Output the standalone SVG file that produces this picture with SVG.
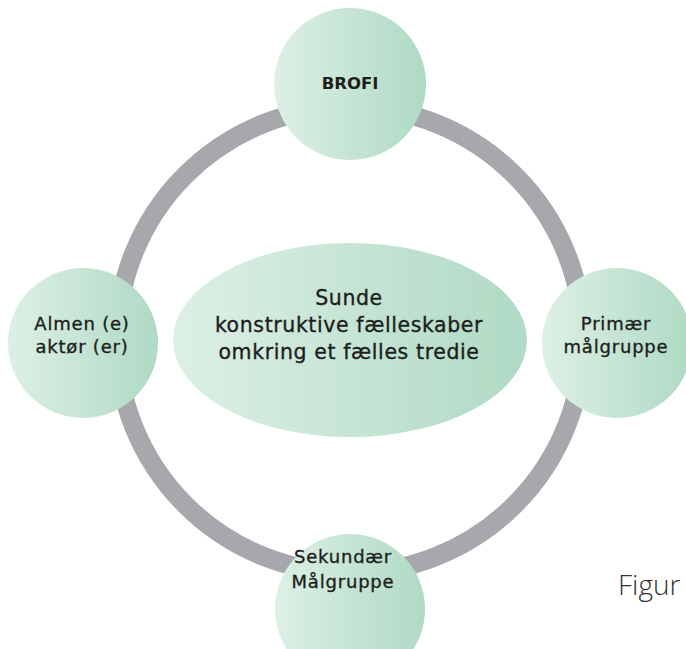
<svg xmlns="http://www.w3.org/2000/svg" width="686" height="649" viewBox="0 0 686 649">
<defs>
<linearGradient id="g" x1="0" y1="0" x2="1" y2="0">
<stop offset="0" stop-color="#ddf0e5"/>
<stop offset="1" stop-color="#afdac4"/>
</linearGradient>
<style>
.n{fill:url(#g);}
.t{font-family:"DejaVu Sans","Noto Sans",sans-serif;font-size:18px;letter-spacing:0.8px;fill:#1e1e1e;stroke:#1e1e1e;stroke-width:0.35px;text-anchor:middle;}
.c{font-family:"DejaVu Sans","Noto Sans",sans-serif;font-size:20.5px;letter-spacing:0.6px;fill:#1e1e1e;stroke:#1e1e1e;stroke-width:0.35px;text-anchor:middle;}
.ring{fill:none;stroke:#a7a8ac;stroke-width:19;}
</style>
</defs>
<rect width="686" height="649" fill="#ffffff"/>
<g id="connectors">
<circle class="ring" cx="350" cy="340" r="233"/>
</g>
<g id="center">
<ellipse class="n" cx="350" cy="340" rx="177" ry="97"/>
<text class="c" x="349" y="305">Sunde</text>
<text class="c" x="349" y="332">konstruktive fælleskaber</text>
<text class="c" x="349" y="359">omkring et fælles tredie</text>
</g>
<g id="brofi">
<circle class="n" cx="350" cy="84" r="76"/>
<text class="t" x="350" y="89" style="font-weight:700;font-size:16.5px;letter-spacing:0;stroke:none">BROFI</text>
</g>
<g id="almen">
<circle class="n" cx="83" cy="343" r="75"/>
<text class="t" x="82" y="330">Almen (e)</text>
<text class="t" x="82" y="353">aktør (er)</text>
</g>
<g id="primaer">
<circle class="n" cx="617" cy="343" r="75"/>
<text class="t" x="616" y="330">Primær</text>
<text class="t" x="616" y="353">målgruppe</text>
</g>
<g id="sekundaer">
<circle class="n" cx="350" cy="609" r="75"/>
<text class="t" x="343" y="563">Sekundær</text>
<text class="t" x="343" y="588">Målgruppe</text>
</g>
<text x="618" y="595" style="font-family:'Open Sans','Lato',sans-serif;font-size:28px;font-weight:300;fill:#333333">Figur</text>
</svg>
